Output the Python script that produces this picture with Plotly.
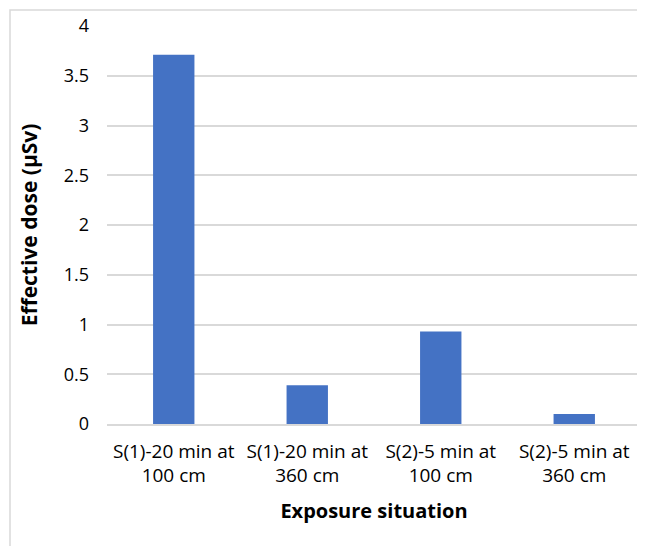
import plotly.graph_objects as go

categories = ["S(1)-20 min at<br>100 cm", "S(1)-20 min at<br>360 cm",
              "S(2)-5 min at<br>100 cm", "S(2)-5 min at<br>360 cm"]
dose_values = [3.71, 0.39, 0.93, 0.10]
y_ticks = [0, 0.5, 1, 1.5, 2, 2.5, 3, 3.5, 4]
y_tick_labels = ["0", "0.5", "1", "1.5", "2", "2.5", "3", "3.5", "4"]

FONT = "Open Sans"
GRID = "#d9d9d9"

L, R, T, B = 99, 12, 18, 130
PW, PH = 645 - L - R, 546 - T - B

fig = go.Figure(go.Bar(
    x=categories, y=dose_values,
    marker=dict(color="#4472C4", line=dict(width=0)),
    width=0.31,
))

fig.update_layout(
    width=645, height=546,
    margin=dict(l=L, r=R, t=T, b=B),
    paper_bgcolor="white", plot_bgcolor="white",
    font=dict(family=FONT, size=19, color="#000000"),
    showlegend=False,
    bargap=0.69,
    shapes=[dict(type="rect", xref="paper", yref="paper",
                 x0=(2 - L) / PW, x1=1 + (R + 10) / PW,
                 y0=-(B + 10) / PH, y1=1 + (T - 2) / PH,
                 line=dict(color=GRID, width=1.5), fillcolor="rgba(0,0,0,0)",
                 layer="below")],
)
fig.update_yaxes(
    range=[0, 4], tickvals=y_ticks, ticktext=y_tick_labels,
    showgrid=True, gridcolor=GRID, gridwidth=1.5,
    zeroline=False, showline=False, automargin=False,
    ticks="", ticklabelstandoff=17,
    tickfont=dict(family=FONT, size=18),
    title=dict(text="<b>Effective dose (µSv)</b>", font=dict(family=FONT, size=21), standoff=20),
)
fig.update_xaxes(
    showline=True, linecolor=GRID, linewidth=1.5,
    showgrid=False, ticks="", automargin=False,
    tickfont=dict(family=FONT, size=19),
    ticklabelstandoff=9,
    title=dict(text="<b>Exposure situation</b>", font=dict(family=FONT, size=20), standoff=17),
)

fig.write_html("out.html")
